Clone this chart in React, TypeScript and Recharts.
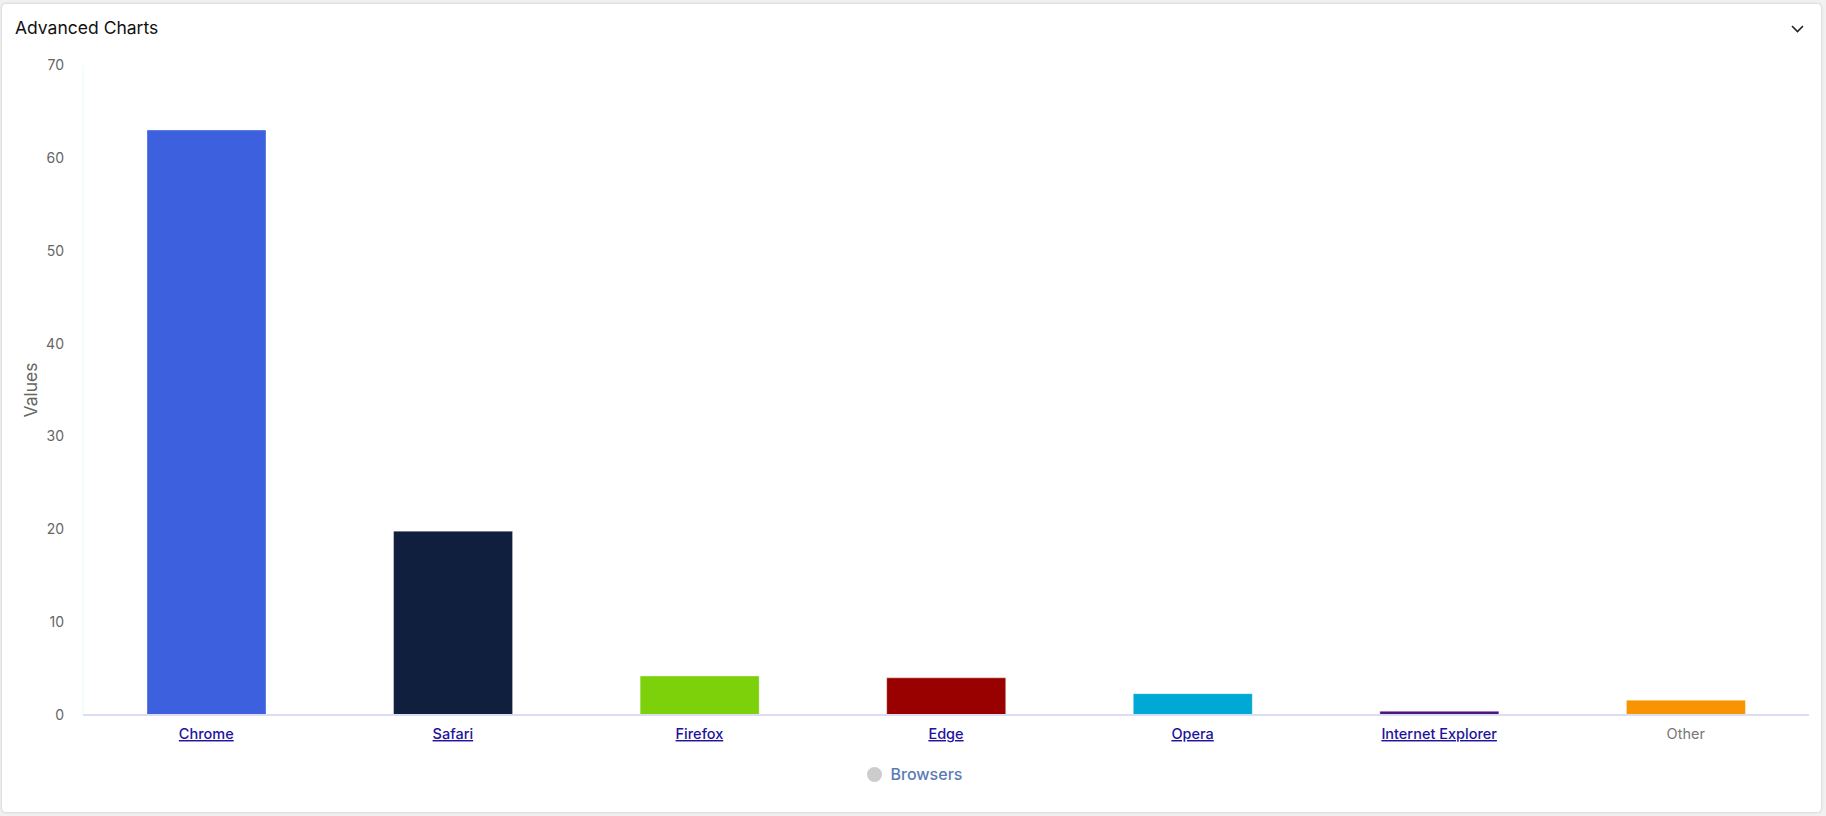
import React from 'react';
import { BarChart, Bar, XAxis, YAxis, Cell, Legend } from 'recharts';

const browsers = ['Chrome', 'Safari', 'Firefox', 'Edge', 'Opera', 'Internet Explorer', 'Other'];
const shares = [63, 19.8, 4.2, 4.0, 2.3, 0.4, 1.6];
const barColors = ['#3d60df', '#101f3e', '#7dd10b', '#990000', '#00a9d5', '#51147d', '#f79400'];
const linked = [true, true, true, true, true, true, false];
const yTicks = [0, 10, 20, 30, 40, 50, 60, 70];

const data = browsers.map((name, i) => ({ name, value: shares[i], linked: linked[i] }));

const FONT = 'Inter, "Noto Sans", sans-serif';

const BrowserTick = (props: any) => {
  const { x, y, payload, index } = props;
  const isLink = linked[index];
  return (
    <text
      x={x}
      y={y}
      dy={16}
      textAnchor="middle"
      fontFamily={FONT}
      fontSize={14.5}
      fontWeight={isLink ? 500 : 400}
      fill={isLink ? '#22129e' : '#777'}
      textDecoration={isLink ? 'underline' : 'none'}
    >
      {payload.value}
    </text>
  );
};

const BrowserLegend = () => (
  <div
    style={{
      display: 'flex',
      alignItems: 'center',
      justifyContent: 'center',
      height: 22,
      fontFamily: FONT,
    }}
  >
    <span
      style={{
        width: 15,
        height: 15,
        borderRadius: '50%',
        background: '#cccccc',
        display: 'inline-block',
        marginRight: 9,
      }}
    />
    <span style={{ color: '#5b7bb5', fontSize: 16, fontWeight: 500 }}>Browsers</span>
  </div>
);

export default function App() {
  return (
    <div style={{ position: 'fixed', inset: 0, background: '#f1f1f1', overflow: 'hidden' }}>
      <div
        style={{
          position: 'absolute',
          left: 2,
          top: 4,
          width: 1819,
          height: 808,
          background: '#fff',
          borderRadius: 4,
          boxShadow: '0 0 3px rgba(0,0,0,0.22)',
        }}
      />
      <div
        style={{
          position: 'absolute',
          left: 15,
          top: 17,
          fontFamily: FONT,
          fontSize: 17.5,
          color: '#111',
        }}
      >
        Advanced Charts
      </div>
      <svg
        style={{ position: 'absolute', left: 1791, top: 25 }}
        width={13}
        height={8}
        viewBox="0 0 13 8"
      >
        <path d="M1 1 L6.5 6.5 L12 1" fill="none" stroke="#222" strokeWidth={1.6} />
      </svg>
      <div style={{ position: 'absolute', left: 0, top: 0 }}>
        <BarChart
          width={1826}
          height={816}
          data={data}
          margin={{ top: 65, right: 17, bottom: 31, left: 20 }}
        >
          <XAxis
            dataKey="name"
            height={48}
            stroke="#dcdcf2"
            strokeWidth={2}
            tickLine={false}
            tickSize={0}
            tickMargin={8}
            tick={<BrowserTick />}
            interval={0}
          />
          <YAxis
            width={63}
            domain={[0, 70]}
            ticks={yTicks}
            stroke="#e0fcfc"
            tickLine={false}
            tickSize={0}
            tickMargin={19}
            tick={{ fill: '#666', fontSize: 14, fontFamily: FONT }}
            label={{
              value: 'Values',
              angle: -90,
              position: 'insideLeft',
              offset: 11,
              style: { textAnchor: 'middle', fill: '#666', fontSize: 17.5, fontFamily: FONT },
            }}
          />
          <Legend verticalAlign="bottom" content={<BrowserLegend />} />
          <Bar
            dataKey="value"
            name="Browsers"
            barSize={119}
            stroke="rgba(255,255,255,0.35)"
            strokeWidth={1}
            isAnimationActive={false}
          >
            {data.map((entry, i) => (
              <Cell key={`cell-${entry.name}`} fill={barColors[i]} />
            ))}
          </Bar>
        </BarChart>
      </div>
    </div>
  );
}
